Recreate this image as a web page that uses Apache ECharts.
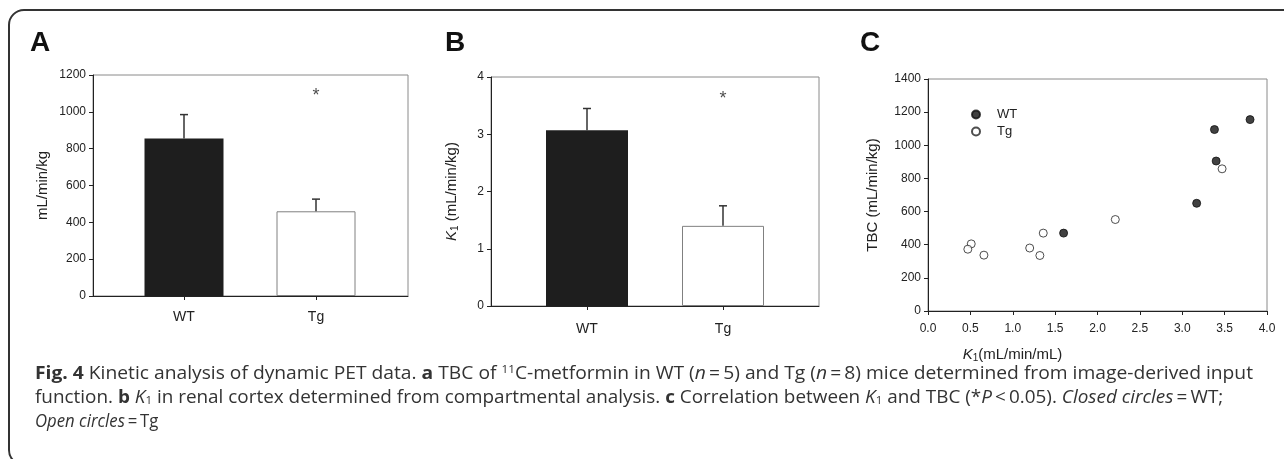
<!DOCTYPE html>
<html>
<head>
<meta charset="utf-8">
<script src="https://cdn.jsdelivr.net/npm/echarts@6/dist/echarts.min.js"></script>
<style>
html,body{margin:0;padding:0;background:#fff;}
#c{width:1284px;height:459px;}
</style>
</head>
<body>
<div id="c"></div>
<script>
// ---------- data ----------
const groups = ['WT', 'Tg'];
const tbcMean = [855, 460];
const tbcErr = [130, 66];
const tbcStar = 1085;          // position of significance asterisk (panel A, Tg)
const k1Mean = [3.07, 1.40];
const k1Err = [0.38, 0.35];
const k1Star = 3.62;           // position of significance asterisk (panel B, Tg)

const wtK1  = [3.80, 3.38, 3.40, 3.17, 1.60];
const wtTBC = [1155, 1095, 905, 650, 470];
const tgK1  = [3.47, 2.21, 1.36, 1.20, 1.32, 0.51, 0.47, 0.66];
const tgTBC = [858, 552, 470, 380, 335, 405, 373, 337];

const captionLines = [
  '{b|Fig. 4} Kinetic analysis of dynamic PET data. {b|a} TBC of {sup|11}C-metformin in WT ({i|n}\u2009=\u20095) and Tg ({i|n}\u2009=\u20098) mice determined from image-derived input',
  'function. {b|b} {i|K}{sub|1} in renal cortex determined from compartmental analysis. {b|c} Correlation between {i|K}{sub|1} and TBC (*{i|P}\u2009<\u20090.05). {i|Closed circles}\u2009=\u2009WT;',
  '{i|Open circles}\u2009=\u2009Tg'
];

// ---------- styles ----------
const FONT = 'Liberation Sans, Arial, sans-serif';
const TXT = '#222';
const barFill = ['#1e1e1e', '#ffffff'];
const barBorder = ['#1e1e1e', '#808080'];

function barData(vals) {
  return vals.map((v, i) => ({
    value: v,
    itemStyle: { color: barFill[i], borderColor: barBorder[i], borderWidth: i ? 1 : 0 }
  }));
}
function errData(means, errs) { return means.map((m, i) => [i, m, errs[i]]); }
function errRender(params, api) {
  const x = api.value(0), m = api.value(1), e = api.value(2);
  const p0 = api.coord([x, m]);
  const p1 = api.coord([x, m + e]);
  const w = 4;
  const st = { stroke: '#333', lineWidth: 1.5 };
  return { type: 'group', children: [
    { type: 'line', shape: { x1: p0[0], y1: p0[1], x2: p1[0], y2: p1[1] }, style: st },
    { type: 'line', shape: { x1: p1[0] - w, y1: p1[1], x2: p1[0] + w, y2: p1[1] }, style: st }
  ]};
}

const boxAxisX = (gi) => ({
  type: 'value', gridIndex: gi, min: 0, max: 1,
  axisLine: { show: true, lineStyle: { color: '#222', width: 1 } },
  axisTick: { show: false }, axisLabel: { show: false }, splitLine: { show: false }
});
const valueY = (gi, min, max, interval, show, name, nameGap, rich) => ({
  type: 'value', gridIndex: gi, min: min, max: max, interval: interval,
  show: show,
  name: name, nameLocation: 'middle', nameGap: nameGap, nameRotate: 90,
  nameTextStyle: { fontFamily: FONT, fontSize: 15, color: TXT, rich: rich },
  axisLine: { show: true, lineStyle: { color: '#222', width: 1 } },
  axisTick: { show: true, inside: false, length: 4, lineStyle: { color: '#222' } },
  axisLabel: { show: true, fontFamily: FONT, fontSize: 12, color: TXT, margin: 7, formatter: v => String(v) },
  splitLine: { show: false }
});
const catX = (gi, margin) => ({
  type: 'category', gridIndex: gi, data: groups,
  axisLine: { show: false },
  axisTick: { show: true, alignWithLabel: true, length: 4, lineStyle: { color: '#222' } },
  axisLabel: { fontFamily: FONT, fontSize: 14, color: TXT, margin: margin },
  splitLine: { show: false }
});

const subRich = {
  i: { fontFamily: FONT, fontSize: 15, fontStyle: 'italic', color: TXT },
  s: { fontFamily: FONT, fontSize: 10, color: TXT, verticalAlign: 'bottom', padding: [6, 0, 0, 0] }
};

const CAP_FS = 18;
const capRich = {
  b: { fontFamily: 'Open Sans', fontSize: CAP_FS, fontWeight: 'bold', color: '#222' },
  i: { fontFamily: 'Open Sans', fontSize: CAP_FS, fontStyle: 'italic', color: '#333' },
  sup: { fontFamily: 'Open Sans', fontSize: 11, color: '#333', verticalAlign: 'top', padding: [0, 0, 8, 0] },
  sub: { fontFamily: 'Open Sans', fontSize: 11, color: '#333', verticalAlign: 'bottom', padding: [6, 0, 0, 0] }
};
const capScaleX = [1.069, 1.05, 0.93];
const capY = [364, 388.5, 413];

const option = {
  animation: false,
  backgroundColor: '#fff',
  textStyle: { fontFamily: FONT },
  grid: [
    { left: 93, top: 75, width: 315, height: 221, show: true, borderColor: '#8a8a8a', borderWidth: 1, backgroundColor: 'transparent' },
    { left: 118, top: 75, width: 264, height: 221 },
    { left: 491, top: 77, width: 328, height: 229, show: true, borderColor: '#8a8a8a', borderWidth: 1, backgroundColor: 'transparent' },
    { left: 519, top: 77, width: 272, height: 229 },
    { left: 928, top: 79, width: 339, height: 232, show: true, borderColor: '#8a8a8a', borderWidth: 1, backgroundColor: 'transparent' }
  ],
  xAxis: [
    boxAxisX(0),
    catX(1, 14),
    boxAxisX(2),
    catX(3, 16),
    {
      type: 'value', gridIndex: 4, min: 0, max: 4, interval: 0.5,
      name: '{i|K}{s|1}(mL/min/mL)', nameLocation: 'middle', nameGap: 36,
      nameTextStyle: { fontFamily: FONT, fontSize: 15, color: TXT, padding: [0, 170, 0, 0], rich: subRich },
      axisLine: { show: true, lineStyle: { color: '#222', width: 1 } },
      axisTick: { show: true, length: 4, lineStyle: { color: '#222' } },
      axisLabel: { fontFamily: FONT, fontSize: 12, color: TXT, margin: 12, formatter: v => v.toFixed(1) },
      splitLine: { show: false }
    }
  ],
  yAxis: [
    valueY(0, 0, 1200, 200, true, 'mL/min/kg', 43),
    valueY(1, 0, 1200, 200, false),
    valueY(2, 0, 4, 1, true, '{i|K}{s|1} (mL/min/kg)', 31, subRich),
    valueY(3, 0, 4, 1, false),
    valueY(4, 0, 1400, 200, true, 'TBC (mL/min/kg)', 48)
  ],
  legend: {
    orient: 'vertical', left: 971, top: 108, padding: 0,
    itemWidth: 8, itemHeight: 8, itemGap: 4,
    icon: 'circle',
    textStyle: { fontFamily: FONT, fontSize: 13, color: TXT, padding: [0, 0, 0, 12], lineHeight: 13 },
    data: ['WT', 'Tg']
  },
  series: [
    { type: 'bar', xAxisIndex: 1, yAxisIndex: 1, barWidth: 79, data: barData(tbcMean), z: 2 },
    { type: 'custom', xAxisIndex: 1, yAxisIndex: 1, renderItem: errRender, data: errData(tbcMean, tbcErr), z: 3 },
    { type: 'scatter', xAxisIndex: 1, yAxisIndex: 1, symbolSize: 1, itemStyle: { color: 'rgba(0,0,0,0)' },
      label: { show: true, position: 'inside', formatter: '*', fontFamily: FONT, fontSize: 18, color: TXT },
      data: [[1, tbcStar]] },
    { type: 'bar', xAxisIndex: 3, yAxisIndex: 3, barWidth: 82, data: barData(k1Mean), z: 2 },
    { type: 'custom', xAxisIndex: 3, yAxisIndex: 3, renderItem: errRender, data: errData(k1Mean, k1Err), z: 3 },
    { type: 'scatter', xAxisIndex: 3, yAxisIndex: 3, symbolSize: 1, itemStyle: { color: 'rgba(0,0,0,0)' },
      label: { show: true, position: 'inside', formatter: '*', fontFamily: FONT, fontSize: 18, color: TXT },
      data: [[1, k1Star]] },
    { name: 'WT', type: 'scatter', xAxisIndex: 4, yAxisIndex: 4, symbol: 'circle', symbolSize: 8,
      itemStyle: { color: '#111', borderColor: '#111', borderWidth: 1 },
      data: wtK1.map((x, i) => [x, wtTBC[i]]) },
    { name: 'Tg', type: 'scatter', xAxisIndex: 4, yAxisIndex: 4, symbol: 'circle', symbolSize: 8,
      itemStyle: { color: '#fff', borderColor: '#222', borderWidth: 1 },
      data: tgK1.map((x, i) => [x, tgTBC[i]]) }
  ],
  graphic: [
    { type: 'rect', z: -1, shape: { x: 9, y: 10, width: 1330, height: 455, r: 15 },
      style: { fill: 'none', stroke: '#333', lineWidth: 2 } },
    { type: 'text', x: 30, y: 29, style: { text: 'A', font: 'bold 28px ' + FONT, fill: '#111' } },
    { type: 'text', x: 445, y: 29, style: { text: 'B', font: 'bold 28px ' + FONT, fill: '#111' } },
    { type: 'text', x: 860, y: 29, style: { text: 'C', font: 'bold 28px ' + FONT, fill: '#111' } }
  ].concat(captionLines.map((t, k) => ({
    type: 'text', x: 35, y: capY[k], scaleX: capScaleX[k],
    style: { text: t, fontFamily: 'Open Sans', fontSize: CAP_FS, fill: '#333', rich: capRich }
  })))
};

const chart = echarts.init(document.getElementById('c'), null, { renderer: 'canvas' });
chart.setOption(option);
</script>
</body>
</html>
